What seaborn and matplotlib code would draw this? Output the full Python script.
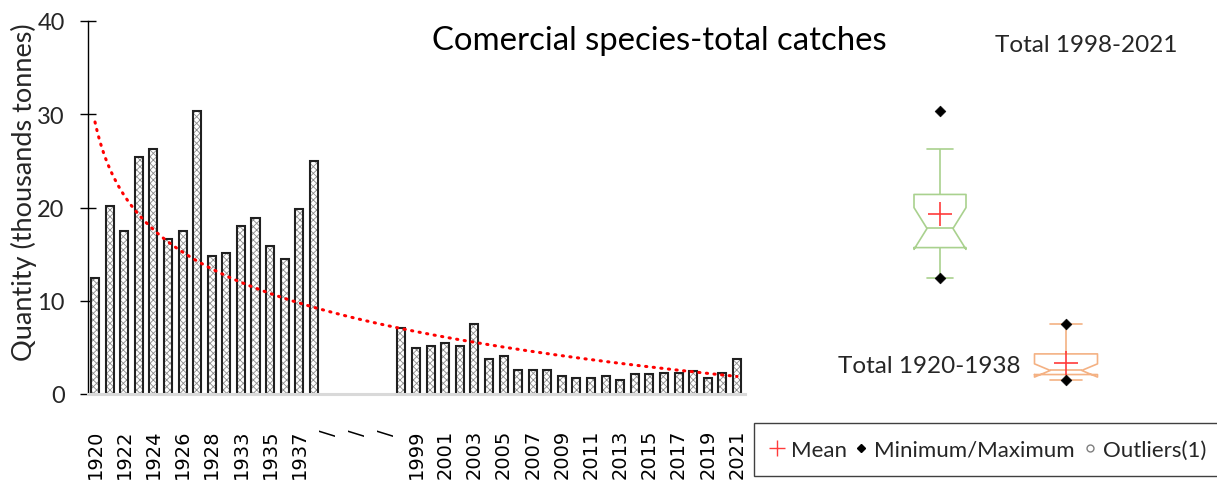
import numpy as np
import pandas as pd
import matplotlib
matplotlib.use("Agg")
import matplotlib.pyplot as plt
from matplotlib.lines import Line2D
import seaborn as sns

# ---- data (thousand tonnes) ----
years_early = ["1920", "1921", "1922", "1923", "1924", "1925", "1926", "1927",
               "1928", "1932", "1933", "1934", "1935", "1936", "1937", "1938"]
catch_early = [12.4, 20.2, 17.5, 25.4, 26.3, 16.6, 17.5, 30.4,
               14.8, 15.1, 18.0, 18.9, 15.9, 14.5, 19.8, 25.0]

# break between the two periods: empty slots holding zero
gap_keys = ["gap1", "gap2", "gap3", "gap4", "gap5"]
gap_labels = ["/", "", "/", "", "/"]
catch_gap = [0, 0, 0, 0, 0]

years_late = ["1998", "1999", "2000", "2001", "2002", "2003", "2004", "2005",
              "2006", "2007", "2008", "2009", "2010", "2011", "2012", "2013",
              "2014", "2015", "2016", "2017", "2018", "2019", "2020", "2021"]
catch_late = [7.1, 4.9, 5.2, 5.5, 5.2, 7.5, 3.7, 4.1,
              2.6, 2.6, 2.6, 1.9, 1.75, 1.75, 1.9, 1.5,
              2.15, 2.15, 2.3, 2.2, 2.45, 1.75, 2.3, 3.7]

title = "Comercial species-total catches"
ylabel = "Quantity (thousands tonnes)"
y_ticks = [0, 10, 20, 30, 40]

# ---- styling ----
sns.set_theme(style="white")
plt.rcParams["font.family"] = ["Lato", "DejaVu Sans"]
plt.rcParams["hatch.linewidth"] = 0.6

W, H = 1217, 485
fig = plt.figure(figsize=(W / 100, H / 100), dpi=100)

def fig_rect(x0, y_top, x1, y_bot):
    return [x0 / W, 1 - y_bot / H, (x1 - x0) / W, (y_bot - y_top) / H]

order = years_early + gap_keys + years_late
tick_labels = []
for i, key in enumerate(order):
    if i % 2:
        tick_labels.append("")
    elif key in gap_keys:
        tick_labels.append(gap_labels[gap_keys.index(key)])
    else:
        tick_labels.append(key)

df = pd.DataFrame({"year": order,
                   "catch": catch_early + catch_gap + catch_late})

# ---- bar panel ----
ax = fig.add_axes(fig_rect(88, 22, 745, 395))
sns.barplot(data=df, x="year", y="catch", order=order, errorbar=None,
            width=0.55, color="white", edgecolor="#8c8c8c", linewidth=0,
            hatch="xxxxx", ax=ax)
sns.barplot(data=df, x="year", y="catch", order=order, errorbar=None,
            width=0.55, fill=False, edgecolor="#202020", linewidth=1.5,
            ax=ax)
# empty slots of the break carry no visible bar
for p in ax.patches:
    if p.get_height() == 0:
        p.set_visible(False)

# logarithmic trend fitted on the category positions
pos = np.arange(len(order), dtype=float)
slope, intercept = np.polyfit(np.log(pos + 1), df["catch"].to_numpy(), 1)
xs = np.linspace(0, len(order) - 1, 300)
trend = intercept + slope * np.log(xs + 1)
sns.lineplot(x=xs, y=trend, ax=ax, color="#ff0000", lw=2.2,
             linestyle=(0, (0.4, 2.1)), dash_capstyle="round")

ax.set_xlim(-0.48, len(order) - 1 + 0.55)
ax.set_ylim(0, 40)
ax.set_yticks(y_ticks)
ax.set_yticklabels([str(t) for t in y_ticks], fontsize=17, color="#262626")
ax.tick_params(axis="y", direction="inout", length=11.5, width=1,
               color="black", pad=11, left=True)
ax.set_xticks(range(len(order)))
ax.set_xticklabels(tick_labels, rotation=90, fontsize=14,
                   family="DejaVu Sans", color="black", va="top")
ax.tick_params(axis="x", length=0, pad=25)
for s in ("top", "right"):
    ax.spines[s].set_visible(False)
ax.spines["left"].set_color("black")
ax.spines["left"].set_linewidth(1)
ax.spines["bottom"].set_color("#d9d9d9")
ax.spines["bottom"].set_linewidth(2.2)
ax.set_xlabel("")
ax.set_ylabel(ylabel, fontsize=19.5, color="#262626")
ax.yaxis.set_label_coords(-0.077, 0.545)
ax.grid(False)
if ax.get_legend():
    ax.get_legend().remove()

# ---- box panel ----
bx = fig.add_axes(fig_rect(830, 22, 1210, 395))
box_sets = [(catch_early, 940, 52, "#a9d18e"),
            (catch_late, 1066, 63, "#f4b183")]
for values, xpos, wdt, col in box_sets:
    sns.boxplot(x=[xpos] * len(values), y=values, native_scale=True,
                width=wdt, fill=False, color=col, linewidth=1.2,
                notch=True, showfliers=False, showmeans=True,
                meanprops=dict(marker="+", markeredgecolor="#ff3b3b",
                               markersize=17, markeredgewidth=1.2),
                ax=bx)
    sns.scatterplot(x=[xpos, xpos], y=[min(values), max(values)],
                    marker="D", color="black", s=30, edgecolor="black",
                    ax=bx, zorder=5)
bx.set_xlim(830, 1210)
bx.set_ylim(0, 40)
bx.axis("off")

fig.text(1086 / W, 1 - 45 / H, "Total 1998-2021", ha="center", va="center",
         fontsize=17.5, color="#262626")
fig.text(929 / W, 1 - 367 / H, "Total 1920-1938", ha="center", va="center",
         fontsize=17.5, color="#262626")
fig.text(659 / W, 1 - 41 / H, title, ha="center", va="center",
         fontsize=23.7, color="black")

handles = [Line2D([], [], marker="+", color="#ff3b3b", ls="", ms=12, mew=1),
           Line2D([], [], marker="D", color="black", ls="", ms=4.5),
           Line2D([], [], marker="o", mfc="none", mec="#7f7f7f", ls="", ms=5)]
fig.legend(handles, ["Mean", "Minimum/Maximum", "Outliers(1)"],
           loc="upper left", bbox_to_anchor=(754 / W, 1 - 424 / H),
           borderaxespad=0, ncol=3, frameon=True, fancybox=False,
           edgecolor="#404040", framealpha=1, handlelength=0.6,
           handletextpad=0.3, columnspacing=0.35, borderpad=0.75,
           fontsize=16)

fig.savefig("out.png", dpi=100)
